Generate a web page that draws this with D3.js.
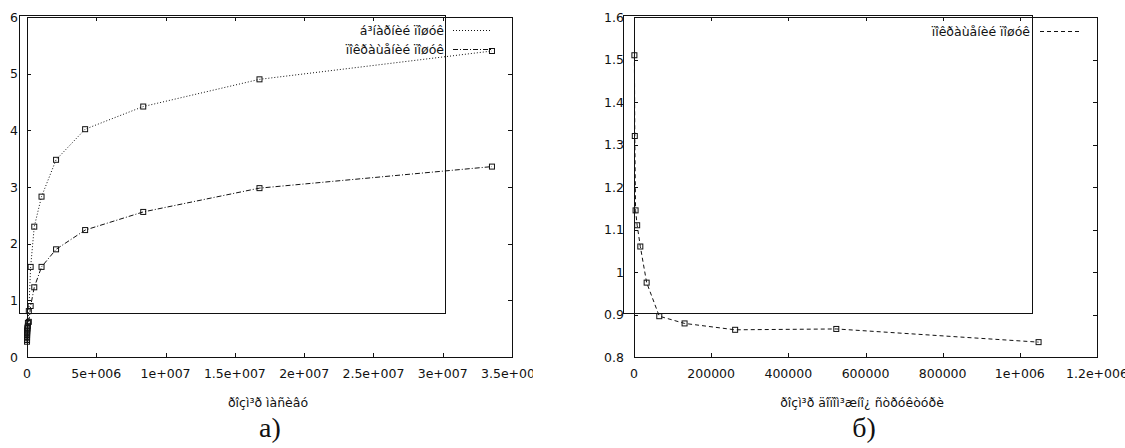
<!DOCTYPE html>
<html>
<head>
<meta charset="utf-8">
<script src="https://d3js.org/d3.v7.min.js"></script>
<style>
body { margin: 0; background: white; }
svg { display: block; font-family: "DejaVu Sans", Verdana, sans-serif; }
.tick-label { font-size: 12.5px; fill: #111; }
.frame { fill: none; stroke: #111; stroke-width: 1; shape-rendering: crispEdges; }
</style>
</head>
<body>
<svg width="1125" height="448"></svg>
<script>
// left chart: search on array sizes
var sizesA = [1024, 2048, 4096, 8192, 16384, 32768, 65536, 131072, 262144, 524288, 1048576, 2097152, 4194304, 8388608, 16777216, 33554432];
var binarySearch = [0.30, 0.33, 0.38, 0.42, 0.47, 0.52, 0.60, 0.81, 1.59, 2.30, 2.83, 3.48, 4.02, 4.42, 4.90, 5.40];
var improvedSearchA = [0.27, 0.30, 0.35, 0.40, 0.45, 0.50, 0.55, 0.62, 0.90, 1.23, 1.59, 1.90, 2.24, 2.56, 2.98, 3.36];
var xTicksA = [0, 5e6, 1e7, 1.5e7, 2e7, 2.5e7, 3e7, 3.5e7];
var xTickLabelsA = ["0", "5e+006", "1e+007", "1.5e+007", "2e+007", "2.5e+007", "3e+007", "3.5e+007"];
var yTicksA = [0, 1, 2, 3, 4, 5, 6];
var yTickLabelsA = ["0", "1", "2", "3", "4", "5", "6"];

// right chart: auxiliary structure sizes
var sizesB = [1024, 2048, 4096, 8192, 16384, 32768, 65536, 131072, 262144, 524288, 1048576];
var improvedSearchB = [1.51, 1.32, 1.145, 1.11, 1.06, 0.975, 0.896, 0.879, 0.864, 0.866, 0.835];
var xTicksB = [0, 200000, 400000, 600000, 800000, 1000000, 1200000];
var xTickLabelsB = ["0", "200000", "400000", "600000", "800000", "1e+006", "1.2e+006"];
var yTicksB = [0.8, 0.9, 1.0, 1.1, 1.2, 1.3, 1.4, 1.5, 1.6];
var yTickLabelsB = ["0.8", "0.9", "1", "1.1", "1.2", "1.3", "1.4", "1.5", "1.6"];

var svg = d3.select("svg");
// the left picture was narrower, its last tick label is cut
svg.append("defs").append("clipPath").attr("id", "clipA")
  .append("rect").attr("x", 0).attr("y", 0).attr("width", 533).attr("height", 448);

function drawPanel(g, o) {
  var x = o.x, y = o.y;
  var x0 = x.range()[0], x1 = x.range()[1], y0 = y.range()[0], y1 = y.range()[1];

  // stray box left over in the original picture
  g.append("rect").attr("class", "frame")
    .attr("x", o.box[0]).attr("y", o.box[1])
    .attr("width", o.box[2] - o.box[0]).attr("height", o.box[3] - o.box[1]);

  // border
  g.append("rect").attr("class", "frame")
    .attr("x", x0).attr("y", y1).attr("width", x1 - x0).attr("height", y0 - y1);

  // inward ticks on all four sides
  o.xTicks.forEach(function(t, i) {
    var px = Math.round(x(t)) + 0.5;
    g.append("line").attr("x1", px).attr("x2", px).attr("y1", y0).attr("y2", y0 - 4).attr("stroke", "#111");
    g.append("line").attr("x1", px).attr("x2", px).attr("y1", y1).attr("y2", y1 + 4).attr("stroke", "#111");
    g.append("text").attr("class", "tick-label").attr("x", x(t)).attr("y", 378)
      .attr("text-anchor", "middle").text(o.xLabels[i]);
  });
  o.yTicks.forEach(function(t, i) {
    var py = Math.round(y(t)) + 0.5;
    g.append("line").attr("x1", x0).attr("x2", x0 + 4).attr("y1", py).attr("y2", py).attr("stroke", "#111");
    g.append("line").attr("x1", x1).attr("x2", x1 - 4).attr("y1", py).attr("y2", py).attr("stroke", "#111");
    g.append("text").attr("class", "tick-label").attr("x", x0 - o.labelGap).attr("y", y(t))
      .attr("dy", "0.36em").attr("text-anchor", "end").text(o.yLabels[i]);
  });

  var line = d3.line().x(function(d) { return x(d[0]); }).y(function(d) { return y(d[1]); });

  o.series.forEach(function(s, k) {
    var pts = o.xs.map(function(v, i) { return [v, s.values[i]]; });
    g.append("path").attr("d", line(pts)).attr("fill", "none")
      .attr("stroke", "#111").attr("stroke-width", 1).attr("stroke-dasharray", s.dash);
    g.selectAll(null).data(pts).enter().append("rect")
      .attr("x", function(d) { return x(d[0]) - 2.5; })
      .attr("y", function(d) { return y(d[1]) - 2.5; })
      .attr("width", 5).attr("height", 5)
      .attr("fill", "none").attr("stroke", "#111").attr("stroke-width", 1);

    // key
    var ky = o.keyY[k];
    g.append("text").attr("class", "tick-label").attr("x", o.keyText).attr("y", ky)
      .attr("dy", "0.36em").attr("text-anchor", "end").text(s.name);
    g.append("line").attr("x1", o.keyLine[0]).attr("x2", o.keyLine[1])
      .attr("y1", ky + 0.5).attr("y2", ky + 0.5)
      .attr("stroke", "#111").attr("stroke-dasharray", s.dash);
  });

  g.append("text").attr("class", "tick-label").attr("x", o.titleX).attr("y", 407)
    .attr("text-anchor", "middle").text(o.xTitle);
  g.append("text").attr("x", o.titleX + 2).attr("y", 437)
    .attr("text-anchor", "middle").style("font-family", "'Liberation Serif', 'Times New Roman', serif")
    .style("font-size", "28px").attr("fill", "#111").text(o.caption);
}

drawPanel(svg.append("g").attr("clip-path", "url(#clipA)"), {
  x: d3.scaleLinear().domain([0, 3.5e7]).range([27, 512]),
  y: d3.scaleLinear().domain([0, 6]).range([357, 17]),
  box: [19, 15, 445, 313],
  xTicks: xTicksA, xLabels: xTickLabelsA, yTicks: yTicksA, yLabels: yTickLabelsA,
  labelGap: 9,
  xs: sizesA,
  series: [
    {name: "á³íàðíèé ïîøóê", values: binarySearch, dash: "1,2"},
    {name: "ïîêðàùåíèé ïîøóê", values: improvedSearchA, dash: "5,2,1,2"}
  ],
  keyY: [30, 49], keyText: 444, keyLine: [453, 491],
  titleX: 268, xTitle: "ðîçì³ð ìàñèâó", caption: "а)"
});

drawPanel(svg.append("g"), {
  x: d3.scaleLinear().domain([0, 1.2e6]).range([634, 1097]),
  y: d3.scaleLinear().domain([0.8, 1.6]).range([357, 17]),
  box: [623, 15, 1032, 313],
  xTicks: xTicksB, xLabels: xTickLabelsB, yTicks: yTicksB, yLabels: yTickLabelsB,
  labelGap: 10,
  xs: sizesB,
  series: [
    {name: "ïîêðàùåíèé ïîøóê", values: improvedSearchB, dash: "4,3"}
  ],
  keyY: [31], keyText: 1030, keyLine: [1040, 1080],
  titleX: 862, xTitle: "ðîçì³ð äîïîì³æíî¿ ñòðóêòóðè", caption: "б)"
});
</script>
</body>
</html>
